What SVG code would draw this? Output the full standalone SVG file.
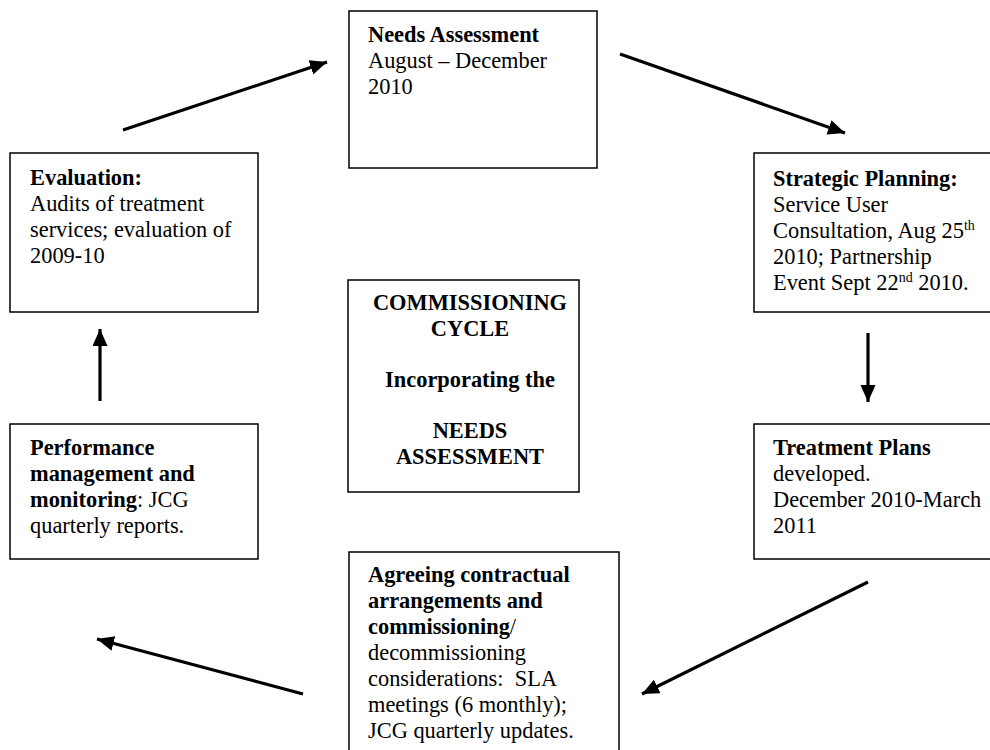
<svg xmlns="http://www.w3.org/2000/svg" width="990" height="750" viewBox="0 0 990 750">
<style>
.box{fill:#fff;stroke:#000;stroke-width:1.5}
text{font-family:"Liberation Serif","Times New Roman",serif;font-size:22.4px;fill:#000}
.b{font-weight:bold}
.c{text-anchor:middle;font-weight:bold}
.sup{font-size:14px}
.arr{stroke:#000;stroke-width:3.2;fill:none;marker-end:url(#ah)}
</style>
<defs>
<marker id="ah" markerUnits="userSpaceOnUse" markerWidth="18" markerHeight="16" refX="17" refY="7.5" orient="auto">
<path d="M0,0 L17,7.5 L0,15 z" fill="#000"/>
</marker>
</defs>
<rect width="990" height="750" fill="#fff"/>
<g id="connectors">
<line class="arr" x1="123" y1="130" x2="327" y2="62"/>
<line class="arr" x1="620" y1="54" x2="845" y2="133"/>
<line class="arr" x1="868" y1="333" x2="868" y2="402"/>
<line class="arr" x1="868" y1="582" x2="642" y2="694"/>
<line class="arr" x1="303" y1="694" x2="97" y2="639"/>
<line class="arr" x1="100" y1="401" x2="100" y2="329"/>
</g>
<g id="needs">
<rect class="box" x="349" y="11" width="248" height="157"/>
<text x="368" y="42"><tspan class="b">Needs Assessment</tspan><tspan x="368" y="68">August – December</tspan><tspan x="368" y="94">2010</tspan></text>
</g>
<g id="evaluation">
<rect class="box" x="10" y="153" width="248" height="159"/>
<text x="30" y="185"><tspan class="b">Evaluation:</tspan><tspan x="30" y="211">Audits of treatment</tspan><tspan x="30" y="237">services; evaluation of</tspan><tspan x="30" y="263">2009-10</tspan></text>
</g>
<g id="strategic">
<rect class="box" x="754" y="153" width="250" height="159"/>
<text x="773" y="186"><tspan class="b">Strategic Planning:</tspan><tspan x="773" y="212">Service User</tspan><tspan x="773" y="238">Consultation, Aug 25<tspan class="sup" dy="-8">th</tspan></tspan><tspan x="773" y="264">2010; Partnership</tspan><tspan x="773" y="290">Event Sept 22<tspan class="sup" dy="-8">nd</tspan><tspan dy="8"> 2010.</tspan></tspan></text>
</g>
<g id="center">
<rect class="box" x="348" y="280" width="231" height="212"/>
<text class="c" x="470" y="310">COMMISSIONING<tspan x="470" y="336">CYCLE</tspan><tspan x="470" y="387">Incorporating the</tspan><tspan x="470" y="438">NEEDS</tspan><tspan x="470" y="464">ASSESSMENT</tspan></text>
</g>
<g id="performance">
<rect class="box" x="10" y="424" width="248" height="135"/>
<text x="30" y="455"><tspan class="b">Performance</tspan><tspan class="b" x="30" y="481">management and</tspan><tspan x="30" y="507"><tspan class="b">monitoring</tspan>: JCG</tspan><tspan x="30" y="533">quarterly reports.</tspan></text>
</g>
<g id="treatment">
<rect class="box" x="754" y="424" width="250" height="135"/>
<text x="773" y="455"><tspan class="b">Treatment Plans</tspan><tspan x="773" y="481">developed.</tspan><tspan x="773" y="507">December 2010-March</tspan><tspan x="773" y="533">2011</tspan></text>
</g>
<g id="agreeing">
<rect class="box" x="349" y="552" width="270" height="210"/>
<text x="368" y="582"><tspan class="b">Agreeing contractual</tspan><tspan class="b" x="368" y="608">arrangements and</tspan><tspan x="368" y="634"><tspan class="b">commissioning</tspan>/</tspan><tspan x="368" y="660">decommissioning</tspan><tspan x="368" y="686">considerations:&#160; SLA</tspan><tspan x="368" y="712">meetings (6 monthly);</tspan><tspan x="368" y="738">JCG quarterly updates.</tspan></text>
</g>
</svg>
